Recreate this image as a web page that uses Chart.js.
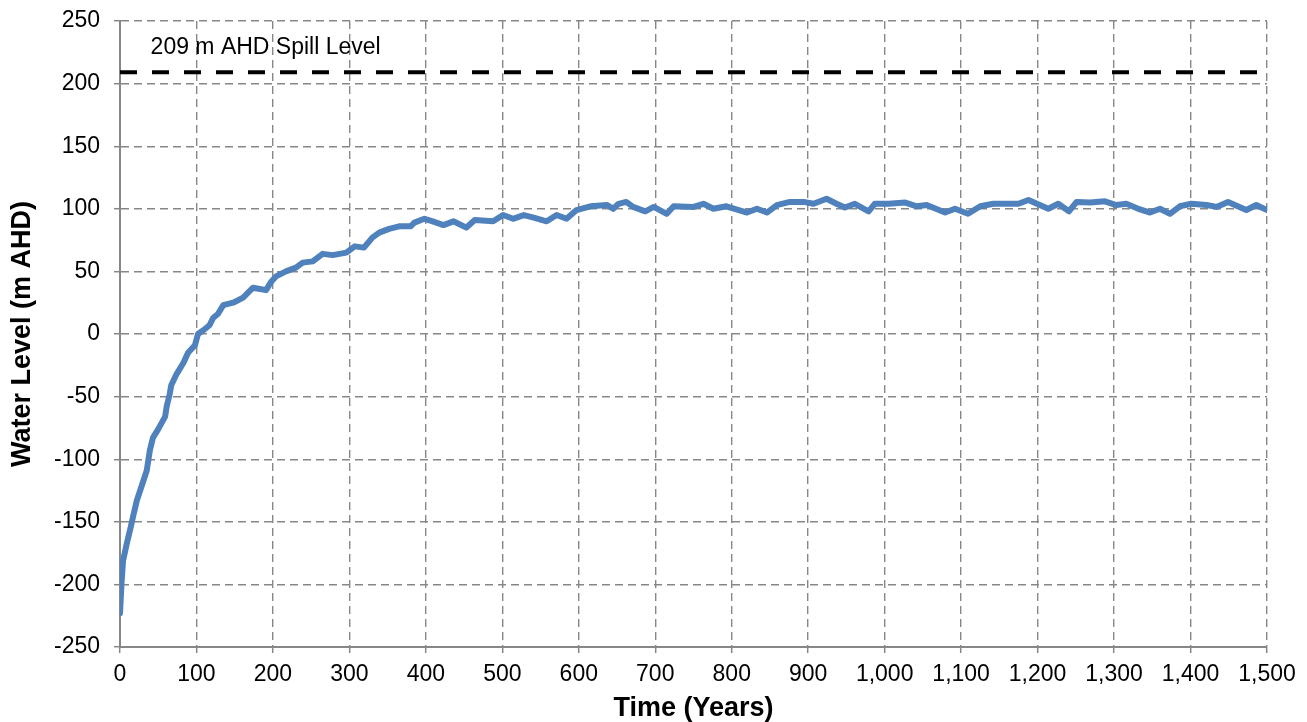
<!DOCTYPE html>
<html>
<head>
<meta charset="utf-8">
<title>Water Level</title>
<script src="https://cdn.jsdelivr.net/npm/chart.js@4.4.1/dist/chart.umd.min.js"></script>
<style>
  html, body { margin: 0; padding: 0; background: #ffffff; }
  #wrap { width: 1307px; height: 722px; position: relative; }
</style>
</head>
<body>
<div id="wrap"><canvas id="chart"></canvas></div>
<script>
// Simulated pit lake water level over time
const years = [
  0, 2, 4, 9, 13, 17, 22, 28, 35, 39, 43, 50, 59, 61, 65, 67, 74, 83, 89, 98,
  102, 109, 117, 122, 128, 135, 148, 161, 174, 183, 191, 198, 204, 217, 230, 239,
  252, 265, 278, 296, 307, 319, 330, 339, 352, 365, 380, 385, 398, 409, 423, 436,
  453, 464, 488, 501, 514, 528, 541, 558, 571, 584, 597, 615, 637, 645, 652, 662,
  671, 687, 698, 715, 724, 750, 763, 776, 793, 820, 833, 846, 859, 876, 894, 907,
  924, 937, 948, 961, 979, 987, 1005, 1027, 1042, 1055, 1079, 1092, 1109, 1125,
  1142, 1164, 1175, 1188, 1214, 1227, 1241, 1251, 1269, 1288, 1303, 1316, 1334,
  1347, 1360, 1373, 1386, 1401, 1421, 1434, 1449, 1473, 1486, 1500
];
const waterLevel = [
  -223, -199, -181, -167, -157, -146, -133, -122, -109, -93, -83, -76, -66, -58, -48, -41, -32, -23, -15, -9,
  0, 3, 7, 13, 16, 23, 25, 29, 37, 36, 35, 42, 46, 50, 53, 57,
  58, 64, 63, 65, 70, 69, 77, 81, 84, 86, 86, 89, 92, 90, 87, 90,
  85, 91, 90, 95, 92, 95, 93, 90, 95, 92, 99, 102, 103, 100, 104, 105.5,
  101.5, 98, 101.5, 96, 102, 101.5, 104, 100, 102, 97, 100, 97, 103, 105.5, 105.5, 104,
  108, 104, 101, 104, 98, 104, 104, 105, 102, 103, 97, 100, 96, 102,
  104, 104, 104, 107, 100, 104, 98, 105.5, 105, 106, 103, 104, 99.5,
  97, 100, 96, 102, 104, 103, 101.5, 105.5, 99, 103, 99
];
const spillLevel = 209;
const spillLabel = '209 m AHD Spill Level';
const xTicks = [0, 1500, 100];   // min, max, step
const yTicks = [-250, 250, 50];  // min, max, step

const FONT = '"Liberation Sans", Arial, Helvetica, sans-serif';
const GRID = '#878787';

const waterData = years.map((t, i) => ({ x: t, y: waterLevel[i] }));
const spillData = [{ x: xTicks[0], y: spillLevel }, { x: xTicks[1], y: spillLevel }];

// Text annotation placed just above the spill line
const spillText = {
  id: 'spillText',
  afterDatasetsDraw(chart) {
    const { ctx, scales } = chart;
    const x = scales.x.getPixelForValue(40);
    const y = scales.y.getPixelForValue(spillLevel) - 25;
    ctx.save();
    ctx.font = '23px ' + FONT;
    ctx.fillStyle = '#000000';
    ctx.textAlign = 'left';
    ctx.textBaseline = 'middle';
    ctx.fillText(spillLabel, x, y);
    ctx.restore();
  }
};

const gridOpts = {
  color: GRID,
  lineWidth: 1.4,
  tickLength: 6,
  tickColor: GRID,
  tickBorderDash: [],
  tickWidth: 1.5
};
const borderOpts = { display: true, color: GRID, width: 2, dash: [8, 5] };

new Chart(document.getElementById('chart'), {
  type: 'line',
  data: {
    datasets: [
      {
        label: 'Spill Level',
        data: spillData,
        borderColor: '#000000',
        borderWidth: 4,
        borderDash: [17, 15],
        borderCapStyle: 'butt',
        pointRadius: 0,
        tension: 0
      },
      {
        label: 'Water Level',
        data: waterData,
        borderColor: '#4F81BD',
        borderWidth: 6,
        borderJoinStyle: 'round',
        borderCapStyle: 'round',
        pointRadius: 0,
        tension: 0
      }
    ]
  },
  options: {
    responsive: true,
    maintainAspectRatio: false,
    animation: false,
    layout: { padding: { top: 21, right: 40, left: 0, bottom: 0 } },
    plugins: {
      legend: { display: false },
      tooltip: { enabled: false }
    },
    scales: {
      x: {
        type: 'linear',
        min: xTicks[0],
        max: xTicks[1],
        afterFit(scale) { scale.height = 75; },
        ticks: {
          stepSize: xTicks[2],
          color: '#000000',
          font: { family: FONT, size: 23 },
          padding: 8,
          maxRotation: 0,
          callback: v => v.toLocaleString('en-US')
        },
        grid: gridOpts,
        border: borderOpts,
        title: {
          display: true,
          text: 'Time (Years)',
          color: '#000000',
          font: { family: FONT, size: 27, weight: 'bold', lineHeight: 1 },
          padding: { top: 0, bottom: 0 }
        }
      },
      y: {
        type: 'linear',
        min: yTicks[0],
        max: yTicks[1],
        afterFit(scale) { scale.width = 120; },
        ticks: {
          stepSize: yTicks[2],
          color: '#000000',
          font: { family: FONT, size: 23, lineHeight: 0.5 },
          padding: 14
        },
        grid: gridOpts,
        border: borderOpts,
        title: {
          display: true,
          text: 'Water Level (m AHD)',
          color: '#000000',
          font: { family: FONT, size: 27, weight: 'bold', lineHeight: 1 },
          padding: { top: 9, bottom: 0 }
        }
      }
    }
  },
  plugins: [spillText]
});
</script>
</body>
</html>
